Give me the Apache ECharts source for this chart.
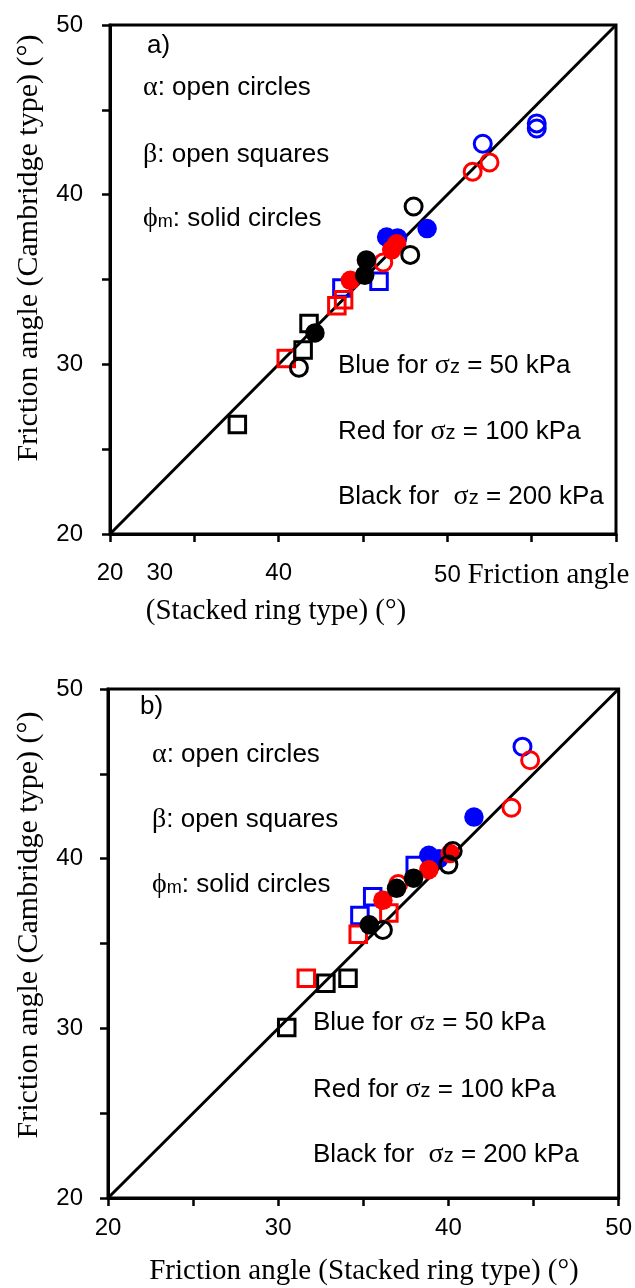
<!DOCTYPE html>
<html><head><meta charset="utf-8">
<script src="https://cdn.jsdelivr.net/npm/echarts@6/dist/echarts.min.js"></script>
<style>html,body{margin:0;padding:0;background:#fff}#c{width:635px;height:1288px}</style>
</head><body><div id="c"></div>
<script>
// ---------- data: [stacked ring type, Cambridge type] (degrees) ----------
const diagonal = [[20, 20], [50, 50]];

// panel a)
const aAlphaBlue  = [[45.3, 44.2], [45.3, 43.9], [42.1, 43.0]];
const aAlphaRed   = [[42.5, 41.9], [41.5, 41.35], [36.2, 36.0]];
const aAlphaBlack = [[38.0, 39.3], [37.8, 36.45], [31.2, 29.8]];
const aBetaBlue   = [[35.95, 34.9], [33.75, 34.5]];
const aBetaRed    = [[33.45, 33.45], [33.85, 33.8], [30.45, 30.35]];
const aBetaBlack  = [[31.8, 32.4], [31.45, 30.85], [27.55, 26.45]];
const aPhiBlue    = [[38.8, 38.0], [36.4, 37.5], [37.05, 37.45]];
const aPhiRed     = [[37.0, 37.1], [36.7, 36.75], [34.25, 34.95]];
const aPhiBlack   = [[35.2, 36.15], [35.1, 35.25], [32.15, 31.85]];

// panel b)
const bAlphaBlue  = [[44.35, 46.6]];
const bAlphaRed   = [[44.8, 45.8], [43.7, 43.0], [37.05, 38.5]];
const bAlphaBlack = [[40.25, 40.45], [40.0, 39.65], [36.15, 35.8]];
const bBetaBlue   = [[38.05, 39.6], [35.55, 37.75], [34.8, 36.65]];
const bBetaRed    = [[36.5, 36.8], [34.7, 35.55], [31.65, 32.95]];
const bBetaBlack  = [[32.8, 32.65], [34.1, 32.95], [30.5, 30.05]];
const bPhiBlue    = [[41.5, 42.45], [38.85, 40.2], [39.45, 40.0]];
const bPhiRed     = [[40.1, 40.3], [38.85, 39.35], [36.15, 37.55]];
const bPhiBlack   = [[37.95, 38.85], [36.95, 38.25], [35.35, 36.1]];

// tick labels
const yTickValues = [20, 30, 40, 50];
const yTickTexts  = ['20', '30', '40', '50'];
const bXTickValues = [20, 30, 40, 50];
const bXTickTexts  = ['20', '30', '40', '50'];
const aXTickValues = [20, 25, 30, 45];
const aXTickTexts  = ['20', '30', '40', '50 Friction angle'];

// texts
const yTitle = 'Friction angle (Cambridge type) (°)';
const aXTitle = '(Stacked ring type) (°)';
const bXTitle = 'Friction angle (Stacked ring type) (°)';
const keyLines = ['{g|α}: open circles', '{g|β}: open squares', '{g|ϕ}{s|m}: solid circles'];
const colorLines = ['Blue for {g|σ}{z|z} = 50 kPa', 'Red for {g|σ}{z|z} = 100 kPa', 'Black for  {g|σ}{z|z} = 200 kPa'];

// ---------- styling ----------
const SANS = 'Liberation Sans, Arial, sans-serif';
const SERIF = 'Liberation Serif, Times New Roman, serif';
const BLUE = '#0000ff', RED = '#ff0000', BLACK = '#000000';

function simpleFmt(vals, texts) {
  return function (v) { const i = vals.indexOf(v); return i < 0 ? '' : texts[i]; };
}
function aXFmt(v) {
  const i = aXTickValues.indexOf(v);
  if (i < 0) return '';
  const t = aXTickTexts[i];
  if (i === 1) return '{shift|' + t + '}';
  if (i === 3) { const p = t.split(' '); return '{num|' + p[0] + ' }{serif|' + p.slice(1).join(' ') + '}'; }
  return t;
}
function axis(gi, fmt, margin) {
  return {
    type: 'value', gridIndex: gi, min: 20, max: 50, interval: 5,
    axisLine: { show: true, onZero: false, lineStyle: { color: '#000', width: 3 } },
    axisTick: { show: true, inside: false, length: 8, lineStyle: { color: '#000', width: 2.5 } },
    splitLine: { show: false },
    axisLabel: {
      show: true, margin: margin, formatter: fmt, color: '#000', fontSize: 24, fontFamily: SANS,
      showMinLabel: true, showMaxLabel: true, hideOverlap: false,
      rich: {
        shift: { fontSize: 24, fontFamily: SANS, color: '#000', padding: [0, 69, 0, 0] },
        num: { fontSize: 24, fontFamily: SANS, color: '#000' },
        serif: { fontSize: 29, fontFamily: SERIF, color: '#000' }
      }
    }
  };
}
function sc(data, gi, color, kind) {
  const open = kind !== 'phi';
  return {
    type: 'scatter', xAxisIndex: gi, yAxisIndex: gi, data: data, silent: true,
    symbol: kind === 'beta' ? 'rect' : 'circle',
    symbolSize: kind === 'beta' ? 16.5 : (open ? 17 : 19.5),
    itemStyle: open ? { color: 'rgba(255,255,255,0)', borderColor: color, borderWidth: 3, opacity: 1 }
                    : { color: color, borderWidth: 0, opacity: 1 },
    z: 3
  };
}
function diag(gi) {
  return { type: 'line', xAxisIndex: gi, yAxisIndex: gi, data: diagonal, symbol: 'none', silent: true,
           lineStyle: { color: '#000', width: 3 }, z: 2 };
}
const richKey = {
  g: { fontFamily: SERIF, fontSize: 28, color: '#000' },
  s: { fontFamily: SANS, fontSize: 18, color: '#000', padding: [6, 0, 0, 0] },
  z: { fontFamily: SANS, fontSize: 20, color: '#000', padding: [3, 0, 0, 0] }
};
function txt(text, x, y, opts) {
  opts = opts || {};
  return {
    type: 'text', x: x, y: y, rotation: opts.rot || 0, silent: true, z: 10,
    style: {
      text: text, fill: '#000', font: opts.font || ('26px ' + SANS),
      textAlign: opts.align || 'left', textVerticalAlign: 'middle',
      align: opts.align || 'left', verticalAlign: 'middle', rich: richKey
    }
  };
}
const serifFont = '29px ' + SERIF;
const serifFontY = '30px ' + SERIF;

const chart = echarts.init(document.getElementById('c'), null, { renderer: 'canvas' });
chart.setOption({
  animation: false,
  backgroundColor: '#fff',
  grid: [
    { left: 110, top: 25, width: 506, height: 509, show: true, borderColor: '#000', borderWidth: 3, containLabel: false },
    { left: 108, top: 689, width: 512, height: 509, show: true, borderColor: '#000', borderWidth: 3, containLabel: false }
  ],
  xAxis: [ axis(0, aXFmt, 27), axis(1, simpleFmt(bXTickValues, bXTickTexts), 18) ],
  yAxis: [ axis(0, simpleFmt(yTickValues, yTickTexts), 27), axis(1, simpleFmt(yTickValues, yTickTexts), 25) ],
  series: [
    diag(0),
    sc(aAlphaBlue, 0, BLUE, 'alpha'), sc(aBetaBlue, 0, BLUE, 'beta'), sc(aPhiBlue, 0, BLUE, 'phi'),
    sc(aAlphaRed, 0, RED, 'alpha'), sc(aBetaRed, 0, RED, 'beta'), sc(aPhiRed, 0, RED, 'phi'),
    sc(aAlphaBlack, 0, BLACK, 'alpha'), sc(aBetaBlack, 0, BLACK, 'beta'), sc(aPhiBlack, 0, BLACK, 'phi'),
    diag(1),
    sc(bAlphaBlue, 1, BLUE, 'alpha'), sc(bBetaBlue, 1, BLUE, 'beta'), sc(bPhiBlue, 1, BLUE, 'phi'),
    sc(bAlphaRed, 1, RED, 'alpha'), sc(bBetaRed, 1, RED, 'beta'), sc(bPhiRed, 1, RED, 'phi'),
    sc(bAlphaBlack, 1, BLACK, 'alpha'), sc(bBetaBlack, 1, BLACK, 'beta'), sc(bPhiBlack, 1, BLACK, 'phi')
  ],
  graphic: [
    // panel a)
    txt('a)', 147, 46),
    txt(keyLines[0], 143, 88), txt(keyLines[1], 143, 155), txt(keyLines[2], 143, 219),
    txt(colorLines[0], 338, 366), txt(colorLines[1], 338, 432), txt(colorLines[2], 338, 497),
    txt(yTitle, 29, 248, { rot: Math.PI / 2, align: 'center', font: serifFontY }),
    txt(aXTitle, 276, 611, { align: 'center', font: serifFont }),
    // panel b)
    txt('b)', 140, 707),
    txt(keyLines[0], 152, 755), txt(keyLines[1], 152, 820), txt(keyLines[2], 152, 885),
    txt(colorLines[0], 313, 1023), txt(colorLines[1], 313, 1090), txt(colorLines[2], 313, 1155),
    txt(yTitle, 29, 925, { rot: Math.PI / 2, align: 'center', font: serifFontY }),
    txt(bXTitle, 364, 1271, { align: 'center', font: serifFont })
  ]
});
</script></body></html>
